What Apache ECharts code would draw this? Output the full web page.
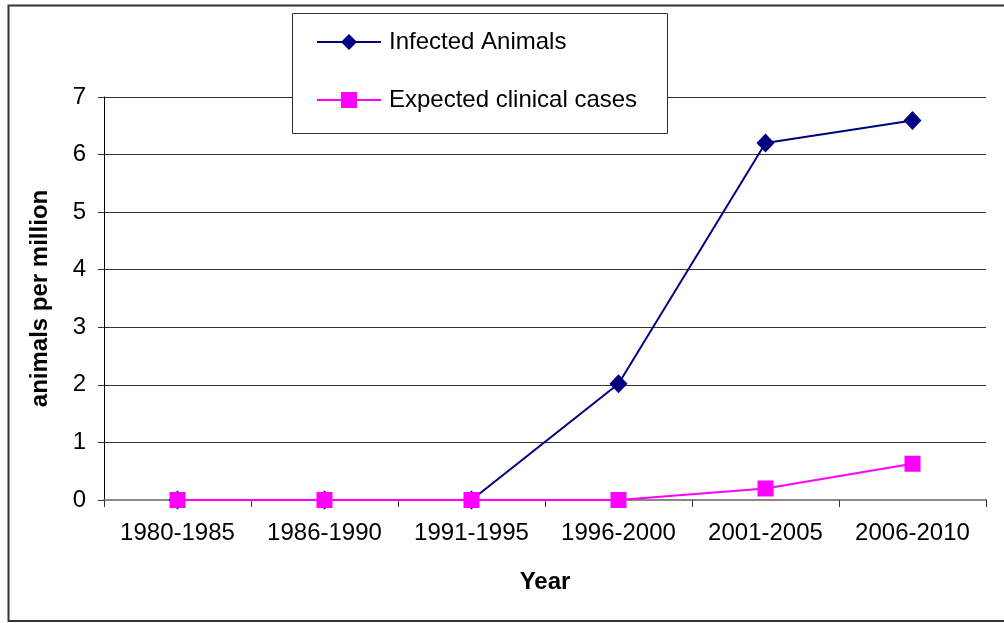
<!DOCTYPE html>
<html>
<head>
<meta charset="utf-8">
<script src="https://cdn.jsdelivr.net/npm/echarts@6/dist/echarts.min.js"></script>
<style>
  html, body { margin: 0; padding: 0; background: #fff; }
  #chart { width: 1004px; height: 623px; }
</style>
</head>
<body>
<div id="chart"></div>
<script>
// periods on the x axis
var periods = ['1980-1985', '1986-1990', '1991-1995', '1996-2000', '2001-2005', '2006-2010'];
// animals per million
var infected = [0, 0, 0, 2.02, 6.2, 6.59];
var clinical = [0, 0, 0, 0, 0.2, 0.63];
var yTicks = [0, 1, 2, 3, 4, 5, 6, 7];

var FONT = 'Liberation Sans, Arial, sans-serif';

var chart = echarts.init(document.getElementById('chart'), null, {renderer: 'canvas'});

chart.setOption({
    animation: false,
    backgroundColor: '#fff',
    textStyle: {fontFamily: FONT, color: '#000'},
    grid: {left: 104, right: 18, top: 97, bottom: 123, containLabel: false},
    legend: {
        z: 20,
        left: 316,
        top: 30,
        padding: 0,
        orient: 'vertical',
        itemWidth: 64,
        itemHeight: 20,
        itemGap: 34,
        textStyle: {fontFamily: FONT, fontSize: 24, color: '#000', padding: [0, 0, 0, 3]},
        data: ['Infected Animals', 'Expected clinical cases']
    },
    graphic: [
        {   // outer chart frame
            type: 'rect',
            shape: {x: 8.5, y: 5.5, width: 1010, height: 615.5},
            style: {fill: null, stroke: '#333', lineWidth: 2},
            silent: true
        },
        {   // legend box
            type: 'rect',
            z: 5,
            shape: {x: 292.5, y: 13.5, width: 375, height: 120},
            style: {fill: '#fff', stroke: '#333', lineWidth: 1},
            silent: true
        }
    ],
    xAxis: {
        type: 'category',
        data: periods,
        boundaryGap: true,
        name: 'Year',
        nameLocation: 'middle',
        nameGap: 70,
        nameTextStyle: {fontFamily: FONT, fontSize: 24, fontWeight: 'bold', color: '#000'},
        axisLine: {lineStyle: {color: '#888', width: 2}},
        axisTick: {show: true, length: 7, lineStyle: {color: '#333', width: 1}},
        axisLabel: {interval: 0, fontFamily: FONT, fontSize: 24, color: '#000', margin: 21},
        splitLine: {show: false}
    },
    yAxis: {
        type: 'value',
        min: yTicks[0],
        max: yTicks[yTicks.length - 1],
        interval: 1,
        name: 'animals per million',
        nameLocation: 'middle',
        nameGap: 52,
        nameTextStyle: {fontFamily: FONT, fontSize: 24, fontWeight: 'bold', color: '#000'},
        axisLine: {show: true, lineStyle: {color: '#000', width: 1}},
        axisTick: {show: true, length: 6, lineStyle: {color: '#333'}},
        axisLabel: {fontFamily: FONT, fontSize: 24, color: '#000', margin: 18},
        splitLine: {show: true, lineStyle: {color: '#333', width: 1}}
    },
    series: [
        {
            name: 'Infected Animals',
            type: 'line',
            data: infected,
            symbol: 'diamond',
            symbolSize: [18, 19],
            showAllSymbol: true,
            color: '#000080',
            lineStyle: {color: '#000080', width: 2},
            itemStyle: {color: '#000080'},
            z: 3
        },
        {
            name: 'Expected clinical cases',
            type: 'line',
            data: clinical,
            symbol: 'rect',
            symbolSize: 16,
            showAllSymbol: true,
            color: '#ff00ff',
            lineStyle: {color: '#ff00ff', width: 2},
            itemStyle: {color: '#ff00ff'},
            z: 4
        }
    ]
});
</script>
</body>
</html>
